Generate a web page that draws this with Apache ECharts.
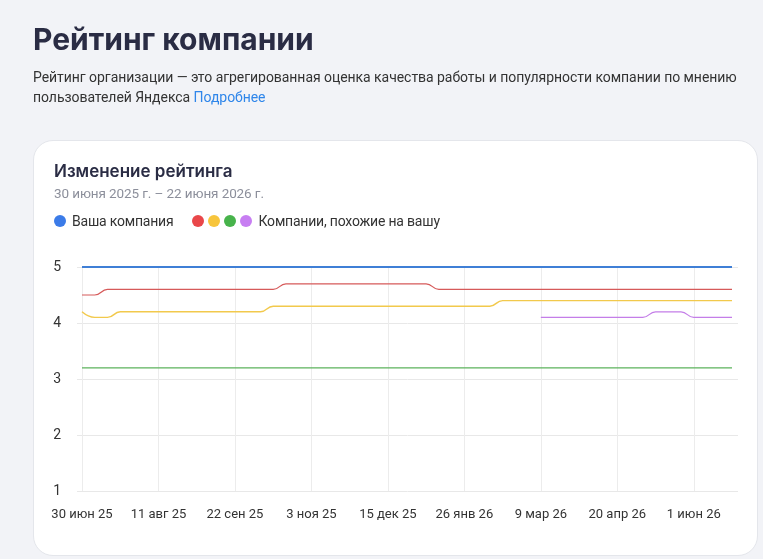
<!DOCTYPE html>
<html><head><meta charset="utf-8">
<script src="https://cdn.jsdelivr.net/npm/echarts@6/dist/echarts.min.js"></script>
<style>
html,body{margin:0;padding:0;width:763px;height:559px;overflow:hidden;background:#f2f3f7;font-family:Roboto,"Noto Sans",sans-serif;}
.abs{position:absolute;white-space:nowrap;z-index:2;}
#card{position:absolute;left:33px;top:140px;width:723px;height:414px;background:#fff;border:1px solid #e4e6eb;border-radius:20px;z-index:0;}
#chart{position:absolute;left:0;top:0;width:763px;height:559px;z-index:1;}
h1{margin:0;}
.dot{display:inline-block;width:12px;height:12px;border-radius:50%;vertical-align:middle;position:relative;top:-1px;}
</style></head>
<body>
<div id="card"></div>
<h1 class="abs" style="left:33px;top:24px;font-family:Inter,Roboto,sans-serif;font-size:30px;line-height:30px;font-weight:700;color:#2a2c44;">Рейтинг компании</h1>
<div class="abs" style="left:33px;top:67px;font-size:14px;letter-spacing:-0.05px;line-height:20px;color:#333;">Рейтинг организации — это агрегированная оценка качества работы и популярности компании по мнению<br>пользователей Яндекса <span style="color:#2f86ea;">Подробнее</span></div>
<div class="abs" style="left:54px;top:160px;font-family:Inter,Roboto,sans-serif;font-size:17px;line-height:22px;font-weight:600;color:#2a2c44;">Изменение рейтинга</div>
<div class="abs" style="left:54px;top:183px;font-size:13.5px;letter-spacing:-0.1px;line-height:20px;color:#8c8f9b;">30 июня 2025 г. – 22 июня 2026 г.</div>
<div class="abs" style="left:54px;top:211px;font-size:14px;letter-spacing:-0.2px;line-height:20px;color:#333;">
<span class="dot" style="background:#3b7be8;"></span><span style="margin-left:6px;">Ваша компания</span><span style="display:inline-block;width:19px;"></span><span class="dot" style="background:#e9474a;"></span><span class="dot" style="background:#f7c53c;margin-left:4px;"></span><span class="dot" style="background:#47b34b;margin-left:4px;"></span><span class="dot" style="background:#c77ef2;margin-left:4px;"></span><span style="margin-left:6px;">Компании, похожие на вашу</span>
</div>
<div id="chart"></div>
<script>
var categories = ["30 июн 25","7 июл 25","14 июл 25","21 июл 25","28 июл 25","4 авг 25","11 авг 25","18 авг 25","25 авг 25","1 сен 25","8 сен 25","15 сен 25","22 сен 25","29 сен 25","6 окт 25","13 окт 25","20 окт 25","27 окт 25","3 ноя 25","10 ноя 25","17 ноя 25","24 ноя 25","1 дек 25","8 дек 25","15 дек 25","22 дек 25","29 дек 25","5 янв 26","12 янв 26","19 янв 26","26 янв 26","2 фев 26","9 фев 26","16 фев 26","23 фев 26","2 мар 26","9 мар 26","16 мар 26","23 мар 26","30 мар 26","6 апр 26","13 апр 26","20 апр 26","27 апр 26","4 мая 26","11 мая 26","18 мая 26","25 мая 26","1 июн 26","8 июн 26","15 июн 26","22 июн 26"];
var yourCompany = [5,5,5,5,5,5,5,5,5,5,5,5,5,5,5,5,5,5,5,5,5,5,5,5,5,5,5,5,5,5,5,5,5,5,5,5,5,5,5,5,5,5,5,5,5,5,5,5,5,5,5,5];
var similarRed = [4.5,4.5,4.6,4.6,4.6,4.6,4.6,4.6,4.6,4.6,4.6,4.6,4.6,4.6,4.6,4.6,4.7,4.7,4.7,4.7,4.7,4.7,4.7,4.7,4.7,4.7,4.7,4.7,4.6,4.6,4.6,4.6,4.6,4.6,4.6,4.6,4.6,4.6,4.6,4.6,4.6,4.6,4.6,4.6,4.6,4.6,4.6,4.6,4.6,4.6,4.6,4.6];
var similarYellow = [4.2,4.1,4.1,4.2,4.2,4.2,4.2,4.2,4.2,4.2,4.2,4.2,4.2,4.2,4.2,4.3,4.3,4.3,4.3,4.3,4.3,4.3,4.3,4.3,4.3,4.3,4.3,4.3,4.3,4.3,4.3,4.3,4.3,4.4,4.4,4.4,4.4,4.4,4.4,4.4,4.4,4.4,4.4,4.4,4.4,4.4,4.4,4.4,4.4,4.4,4.4,4.4];
var similarGreen = [3.2,3.2,3.2,3.2,3.2,3.2,3.2,3.2,3.2,3.2,3.2,3.2,3.2,3.2,3.2,3.2,3.2,3.2,3.2,3.2,3.2,3.2,3.2,3.2,3.2,3.2,3.2,3.2,3.2,3.2,3.2,3.2,3.2,3.2,3.2,3.2,3.2,3.2,3.2,3.2,3.2,3.2,3.2,3.2,3.2,3.2,3.2,3.2,3.2,3.2,3.2,3.2];
var similarPurple = [null,null,null,null,null,null,null,null,null,null,null,null,null,null,null,null,null,null,null,null,null,null,null,null,null,null,null,null,null,null,null,null,null,null,null,null,4.1,4.1,4.1,4.1,4.1,4.1,4.1,4.1,4.1,4.2,4.2,4.2,4.1,4.1,4.1,4.1];
var yTicks = [1,2,3,4,5];

var chart = echarts.init(document.getElementById('chart'));
function line(name, data, color, width){
  return {name:name,type:'line',xAxisIndex:1,yAxisIndex:1,data:data,smooth:0.5,smoothMonotone:'x',
    showSymbol:false,symbol:'none',lineStyle:{color:color,width:width},itemStyle:{color:color},connectNulls:false,z:3};
}
chart.setOption({
  animation:false,
  grid:[
    {left:77,top:267,width:661,height:224},
    {left:82,top:267,width:650,height:224}
  ],
  xAxis:[
    {gridIndex:0,type:'value',min:0,max:1,show:false},
    {gridIndex:1,type:'category',data:categories,boundaryGap:false,
     axisLine:{show:false},axisTick:{show:false},
     axisLabel:{interval:5,color:'#333',fontSize:13,margin:17,fontFamily:'Roboto'},
     splitLine:{show:true,interval:5,lineStyle:{color:'#ececec',width:1}}}
  ],
  yAxis:[
    {gridIndex:0,type:'value',min:yTicks[0],max:yTicks[yTicks.length-1],interval:1,
     axisLine:{show:false},axisTick:{show:false},
     axisLabel:{color:'#333',fontSize:14,margin:16,fontFamily:'Roboto'},
     splitLine:{show:true,lineStyle:{color:'#e8e8e8',width:1}}},
    {gridIndex:1,type:'value',min:1,max:5,interval:1,show:false,splitLine:{show:false}}
  ],
  series:[
    line('Зелёная', similarGreen, '#5cb35c', 1.2),
    line('Фиолетовая', similarPurple, '#c47ee8', 1.2),
    line('Жёлтая', similarYellow, '#f2c94c', 1.4),
    line('Красная', similarRed, '#d65a5a', 1.2),
    line('Ваша компания', yourCompany, '#3f7fd6', 2)
  ]
});
</script>
</body></html>
